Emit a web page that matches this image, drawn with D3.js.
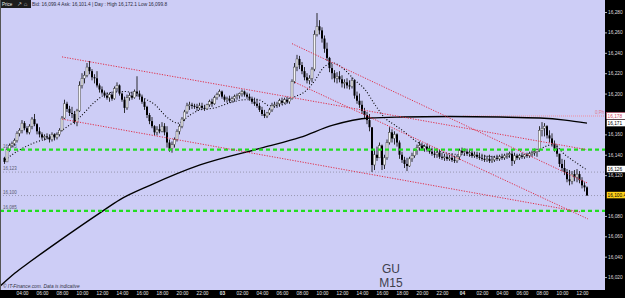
<!DOCTYPE html>
<html>
<head>
<meta charset="utf-8">
<script src="https://cdn.jsdelivr.net/npm/d3@7"></script>
<style>
body { margin: 0; background: #cdcdf6; }
svg { display: block; font-family: "Liberation Sans", Arial, sans-serif; }
</style>
</head>
<body>
<svg width="625" height="298"></svg>
<script>
// GU M15 candles, hours counted from day 02 00:00, one candle every 15 min
var firstHour = 2.25;
var candleStep = 0.25;
var firstOpen = 16137;

var closes = [
    16133,16145,16149,16151,16154,16161,16164,16171,16166,16162,16168,16175,16170,16163,16160,16157,16158,16157,16155,16160,16157,16160,16164,
    16176,16190,16185,16181,16180,16172,16183,16208,16215,16218,16226,16222,16216,16215,16208,
    16204,16201,16198,16196,16199,16195,16205,16208,16200,16194,16186,16196,16198,16196,16202,16200,16197,16192,16187,16179,16173,16168,16162,16165,16163,16168,16162,16152,16146,16150,16155,16163,16168,16175,16182,16188,16189,16188,16187,16186,
    16188,16186,16185,16189,16192,16190,16196,16199,16202,16197,16194,16195,16193,16195,16197,16198,16200,16202,16199,16197,16195,16192,16190,16188,16184,16180,16178,16181,16184,16188,16189,16190,16193,16191,16194,16192,16195,16212,16226,16234,
    16228,16222,16216,16213,16215,16224,16258,16266,16262,16254,16244,16235,16225,16220,16215,16217,16214,16210,16211,16208,16207,16213,16198,16193,16189,16183,16179,16174,16167,
    16130,16140,16137,16149,16130,16137,16152,16162,16156,16160,16152,16140,16135,16131,16129,16136,16139,16144,16147,16149,16146,16148,16145,16143,16141,16140,16142,16138,16137,16138,16136,16137,16135,16134,16138,16144,16142,16143,16141,16142,16139,16140,16138,16137,16136,16135,16136,16134,16135,16137,16136,16138,16137,16139,16140,16141,16134,16139,16137,16139,16138,16140,16139,16141,16142,16143,16145,
    16164,16166,16168,16159,16156,16151,16146,16141,16131,16127,16123,16116,16114,16121,16118,16121,16115,16110,16108,16100
];
var highs = [
    16138,16147,16151,16153,16156,16163,16166,16174,16173,16168,16170,16177,16180,16171,16167,16162,16160,16161,16160,16162,16161,16162,16166,
    16178,16194,16192,16188,16187,16183,16185,16212,16220,16222,16230,16232,16224,16219,16222,
    16210,16207,16203,16201,16201,16202,16207,16211,16209,16201,16197,16199,16201,16202,16204,16217,16203,16199,16195,16188,16181,16177,16169,16168,16170,16172,16171,16168,16155,16153,16157,16165,16170,16177,16184,16191,16192,16191,16190,16190,
    16191,16191,16189,16190,16194,16195,16198,16201,16204,16203,16199,16197,16198,16197,16199,16200,16201,16204,16203,16201,16200,16197,16196,16195,16191,16187,16184,16182,16186,16191,16192,16192,16195,16196,16196,16197,16196,16214,16230,16238,
    16237,16231,16226,16220,16218,16226,16262,16279,16272,16265,16257,16250,16236,16229,16223,16221,16222,16218,16214,16215,16213,16216,16214,16202,16200,16193,16186,16182,16180,
    16166,16145,16148,16152,16150,16140,16155,16167,16165,16163,16161,16154,16143,16138,16137,16138,16142,16146,16150,16153,16152,16150,16151,16149,16147,16146,16146,16145,16142,16141,16141,16140,16141,16139,16140,16146,16147,16146,16146,16145,16144,16143,16143,16142,16141,16140,16139,16140,16139,16139,16140,16140,16141,16141,16142,16143,16145,16142,16141,16141,16142,16141,16142,16143,16144,16146,16146,
    16168,16172,16171,16169,16164,16161,16154,16150,16141,16136,16135,16126,16125,16124,16125,16126,16124,16118,16113,16109
];
var lows = [
    16131,16133,16143,16147,16149,16152,16158,16161,16164,16160,16160,16165,16168,16160,16157,16155,16154,16155,16152,16153,16154,16155,16158,
    16163,16175,16182,16178,16176,16170,16168,16182,16205,16210,16216,16219,16213,16210,16206,
    16201,16199,16196,16194,16192,16193,16194,16202,16198,16192,16181,16184,16193,16194,16195,16197,16194,16190,16184,16176,16170,16166,16159,16159,16161,16162,16159,16147,16143,16142,16147,16153,16160,16166,16173,16180,16184,16185,16185,16183,
    16184,16184,16183,16184,16187,16187,16189,16194,16197,16195,16192,16191,16191,16191,16192,16194,16195,16197,16197,16195,16193,16190,16188,16186,16182,16178,16176,16176,16179,16182,16186,16186,16187,16189,16190,16190,16190,16194,16210,16222,
    16224,16219,16213,16210,16209,16211,16222,16256,16258,16250,16240,16232,16221,16214,16211,16210,16211,16206,16205,16205,16204,16205,16195,16190,16186,16180,16176,16170,16163,
    16123,16125,16134,16137,16125,16126,16135,16150,16152,16150,16148,16136,16132,16127,16124,16128,16133,16137,16140,16144,16144,16143,16143,16141,16139,16137,16137,16136,16135,16134,16134,16134,16133,16132,16132,16135,16140,16139,16140,16138,16137,16137,16136,16135,16134,16133,16133,16132,16132,16133,16134,16134,16135,16135,16136,16137,16129,16131,16135,16135,16136,16136,16137,16137,16138,16139,16138,
    16143,16158,16158,16156,16152,16148,16143,16138,16128,16124,16120,16113,16110,16111,16114,16113,16112,16107,16104,16100
];

// moving averages (hour, price)
var slowMaHours = [1.8, 3.3, 4.8, 7.8, 11.8, 13.8, 16.8, 21.8, 28.1, 31.8, 35.1, 38.8, 41.8, 46.8, 51.8, 55.8, 58.3, 60.5];
var slowMaValues = [16011, 16024, 16035, 16056, 16083, 16096, 16110, 16130, 16147, 16157, 16169, 16176, 16177, 16177.5, 16177, 16176, 16174, 16171];

var fastMaHours = [2.3, 3.8, 5.3, 6.8, 8.3, 9.8, 11.3, 12.8, 14.3, 15.8, 17.3, 18.6, 19.6, 20.8, 21.8, 23.3, 24.8, 26.3, 27.6, 28.8, 30.1, 31.1, 32.3, 33.3, 34.1, 35.1, 36.3, 37.3, 38.3, 39.3, 40.3, 41.3, 42.3, 43.3, 44.3, 45.8, 47.8, 49.8, 51.8, 53.8, 55.3, 56.3, 57.1, 58.3, 59.3, 60.5];
var fastMaValues = [16135, 16145, 16152, 16157, 16166, 16177, 16192, 16201, 16202, 16197, 16189, 16176, 16171, 16179, 16184, 16186, 16191, 16194, 16194, 16188, 16189, 16196, 16202, 16213, 16225, 16230, 16223, 16213, 16204, 16189, 16176, 16169, 16162, 16154, 16148, 16143, 16140, 16139, 16138, 16139, 16142, 16148, 16150, 16140, 16133, 16125];

// trend lines: start hour, start price, end hour, end price
var trendStartHours = [8.0, 8.0, 31.0, 31.3];
var trendStartPrices = [16236, 16175, 16249, 16211];
var trendEndHours = [60.5, 59.8, 60.6, 60.6];
var trendEndPrices = [16145, 16084, 16112, 16077];

var greenLevels = [16145, 16085];
var greyLevels = [16123, 16100];
var levelLabels = ["16,145", "16,123", "16,100", "16,085"];
var levelLabelValues = [16145, 16123, 16100, 16085];
var pivotLevel = 16178;
var pivotFromHour = 48.1;

// 16,100 and 16,180 sit under the value boxes, so they are not shown
var priceTicks = [16020, 16040, 16060, 16080, 16120, 16140, 16160, 16200, 16220, 16240, 16260, 16280];
var timeTicks = [4, 6, 8, 10, 12, 14, 16, 18, 20, 22, 24, 26, 28, 30, 32, 34, 36, 38, 40, 42, 44, 46, 48, 50, 52, 54, 56, 58, 60];

var boxValues = [16178, 16171, 16126, 16100.4];
var boxTexts = ["16,178", "16,171", "16,126", "16,100.4"];
var boxFills = ["#ffffff", "#ffffff", "#ffffff", "#ffd21a"];
var boxInk = ["#d04a6a", "#000000", "#000000", "#000000"];

var svg = d3.select("svg");
var plotW = 605, plotH = 290;

var x = d3.scaleLinear().domain([1.8, 62.3]).range([0, plotW]);
var y = d3.scaleLinear().domain([16009.3, 16291.8]).range([288, 0]);

svg.append("rect")
    .attr("width", 625).attr("height", 298)
    .attr("fill", "#cdcdf6");

var defs = svg.append("defs");
defs.append("clipPath").attr("id", "plot")
    .append("rect").attr("width", plotW).attr("height", plotH);

var plot = svg.append("g").attr("clip-path", "url(#plot)");

// horizontal levels
plot.selectAll(".grey").data(greyLevels).enter().append("line")
    .attr("x1", 0).attr("x2", plotW)
    .attr("y1", function(d) { return y(d); })
    .attr("y2", function(d) { return y(d); })
    .attr("stroke", "#8a8aa0")
    .attr("stroke-width", 0.8)
    .attr("stroke-dasharray", "1,2");

plot.append("line")
    .attr("x1", x(pivotFromHour)).attr("x2", plotW)
    .attr("y1", y(pivotLevel)).attr("y2", y(pivotLevel))
    .attr("stroke", "#ee8fa0")
    .attr("stroke-width", 1)
    .attr("stroke-dasharray", "1,1");

plot.append("text")
    .attr("x", 595).attr("y", y(pivotLevel) - 2)
    .attr("font-size", 4.5)
    .attr("fill", "#e07a90")
    .text("0,Ph");

plot.selectAll(".lvlLabel").data(levelLabelValues).enter().append("text")
    .attr("x", 3)
    .attr("y", function(d) { return y(d) - 2; })
    .attr("font-size", 4.5)
    .attr("fill", "#5a5a70")
    .text(function(d, i) { return levelLabels[i]; });

// slow MA
var slowLine = d3.line()
    .x(function(d, i) { return x(slowMaHours[i]); })
    .y(function(d) { return y(d); })
    .curve(d3.curveMonotoneX);

plot.append("path")
    .attr("d", slowLine(slowMaValues))
    .attr("fill", "none")
    .attr("stroke", "#000")
    .attr("stroke-width", 1.4);

// fast MA, dotted
var fastLine = d3.line()
    .x(function(d, i) { return x(fastMaHours[i]); })
    .y(function(d) { return y(d); })
    .curve(d3.curveMonotoneX);

plot.append("path")
    .attr("d", fastLine(fastMaValues))
    .attr("fill", "none")
    .attr("stroke", "#000")
    .attr("stroke-width", 1.1)
    .attr("stroke-dasharray", "1,2");

// candles
var candles = closes.map(function(c, i) {
    return {
        t: firstHour + i * candleStep,
        o: i ? closes[i - 1] : firstOpen,
        h: highs[i], l: lows[i], c: c
    };
});

var cg = plot.selectAll(".candle").data(candles).enter().append("g")
    .attr("class", "candle");

cg.append("line")
    .attr("x1", function(d) { return x(d.t); })
    .attr("x2", function(d) { return x(d.t); })
    .attr("y1", function(d) { return y(d.h); })
    .attr("y2", function(d) { return y(d.l); })
    .attr("stroke", "#1a1a1a")
    .attr("stroke-width", 0.9);

cg.append("rect")
    .attr("x", function(d) { return x(d.t) - 1; })
    .attr("width", 2)
    .attr("y", function(d) { return y(Math.max(d.o, d.c)); })
    .attr("height", function(d) { return Math.max(0.8, Math.abs(y(d.o) - y(d.c))); })
    .attr("fill", function(d) { return d.c >= d.o ? "#f4f4f4" : "#000"; })
    .attr("stroke", function(d) { return d.c >= d.o ? "#444" : "none"; })
    .attr("stroke-width", 0.5);

// green dashed levels on top
plot.selectAll(".green").data(greenLevels).enter().append("line")
    .attr("x1", 0).attr("x2", plotW)
    .attr("y1", function(d) { return y(d); })
    .attr("y2", function(d) { return y(d); })
    .attr("stroke", "#22dd22")
    .attr("stroke-width", 2.4)
    .attr("stroke-dasharray", "4,3");

// red trend lines
plot.selectAll(".trend").data(trendStartHours).enter().append("line")
    .attr("x1", function(d) { return x(d); })
    .attr("y1", function(d, i) { return y(trendStartPrices[i]); })
    .attr("x2", function(d, i) { return x(trendEndHours[i]); })
    .attr("y2", function(d, i) { return y(trendEndPrices[i]); })
    .attr("stroke", "#e0304a")
    .attr("stroke-width", 1)
    .attr("stroke-dasharray", "1.2,1.4");

// header
svg.append("rect").attr("x", 0).attr("y", 0).attr("width", 31).attr("height", 8).attr("fill", "#1c1c1c");
svg.append("text").attr("x", 2).attr("y", 6).attr("font-size", 4.5).attr("fill", "#eee").text("Price");
svg.append("text").attr("x", 17).attr("y", 6.2).attr("font-size", 6).attr("fill", "#ccc").text("\u2197 \u2302");
svg.append("text").attr("x", 32).attr("y", 6)
    .attr("font-size", 4.8).attr("fill", "#2a2a40")
    .text("Bid: 16,099.4 Ask: 16,101.4 | Day : High 16,172.1 Low 16,099.8");

// symbol
svg.append("text").attr("x", 391).attr("y", 273)
    .attr("text-anchor", "middle").attr("font-size", 12).attr("fill", "#40404c")
    .text("GU");
svg.append("text").attr("x", 391).attr("y", 287)
    .attr("text-anchor", "middle").attr("font-size", 12).attr("fill", "#40404c")
    .text("M15");

svg.append("text").attr("x", 3).attr("y", 288)
    .attr("font-size", 4.8).attr("font-style", "italic").attr("fill", "#333344")
    .text("\u00a9 IT-Finance.com. Data is indicative");

// right axis strip
svg.append("rect").attr("x", plotW).attr("y", 0).attr("width", 20).attr("height", 298).attr("fill", "#000");
var yAxis = svg.append("g")
    .attr("transform", "translate(" + plotW + ",0)")
    .call(d3.axisRight(y).tickValues(priceTicks).tickSize(2).tickPadding(1).tickFormat(d3.format(",")));
yAxis.select(".domain").remove();
yAxis.selectAll("line").attr("stroke", "#bbb");
yAxis.selectAll("text").attr("fill", "#ddd").attr("font-size", 4.8).attr("font-family", "Liberation Sans, Arial");

var boxes = svg.selectAll(".box").data(boxValues).enter().append("g")
    .attr("transform", function(d) { return "translate(" + (plotW + 1.5) + "," + y(d) + ")"; });
boxes.append("rect")
    .attr("x", 0).attr("y", -3.5).attr("width", 19).attr("height", 7)
    .attr("fill", function(d, i) { return boxFills[i]; })
    .attr("stroke", function(d, i) { return boxInk[i]; })
    .attr("stroke-width", 0.5);
boxes.append("text")
    .attr("x", 1).attr("y", 1.8)
    .attr("font-size", 4.8)
    .attr("fill", function(d, i) { return boxInk[i]; })
    .text(function(d, i) { return boxTexts[i]; });

// bottom time axis strip
svg.append("rect").attr("x", 0).attr("y", plotH).attr("width", 625).attr("height", 8).attr("fill", "#000");
var xAxis = svg.append("g")
    .attr("transform", "translate(0," + plotH + ")")
    .call(d3.axisBottom(x).tickValues(timeTicks).tickSize(0).tickPadding(2)
        .tickFormat(function(h) {
            if (h % 24 === 0) return "0" + (2 + h / 24);
            var hh = h % 24;
            return (hh < 10 ? "0" : "") + hh + ":00";
        }));
xAxis.select(".domain").remove();
xAxis.selectAll("text")
    .attr("fill", "#e8e8e8")
    .attr("font-size", 4.8)
    .attr("font-family", "Liberation Sans, Arial")
    .attr("font-weight", function(h) { return h % 24 === 0 ? "bold" : "normal"; });

svg.append("line").attr("x1", 0.5).attr("x2", 0.5).attr("y1", 0).attr("y2", plotH)
    .attr("stroke", "#555").attr("stroke-width", 1);
</script>
</body>
</html>
